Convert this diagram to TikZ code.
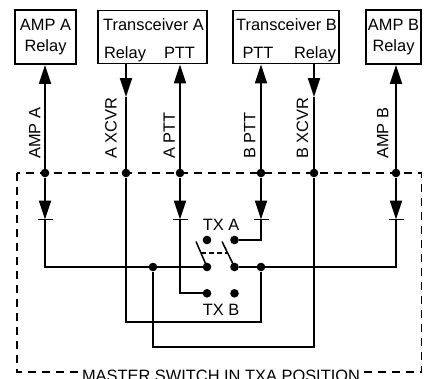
\documentclass[tikz,border=0pt]{standalone}
\usepackage{fontspec}
\setmainfont{Liberation Sans}
\usetikzlibrary{arrows.meta,calc}

\begin{document}
\begin{tikzpicture}[line cap=butt,line join=miter,>={Triangle[length=19pt,width=12pt]},x=1pt,y=-1pt,
            font=\fontsize{16.4}{21}\selectfont,
            wire/.style={line width=1.8pt},
            unit/.style={draw,line width=1.8pt,align=center,inner sep=0pt},
            dot/.style={circle,fill,inner sep=0pt,minimum size=8.6pt},
            sig/.style={rotate=90,anchor=south west,inner sep=0pt},
            frame/.style={line width=1.5pt,dash pattern=on 8pt off 6pt}]
            \useasboundingbox (0,0) rectangle (426,378);
            \draw [frame] (17,173) rectangle (421.7,372);
            \node [fill=white,inner sep=3pt,anchor=base] (mode) at (221,381.7) {MASTER SWITCH IN TXA POSITION};
            % relay and transceiver boxes
            \node [unit,minimum width=61pt,minimum height=54pt] (ampA) at (45.5,37) {AMP A\\Relay};
            \node [unit,minimum width=109pt,minimum height=53pt] (xcvrA) at (152.5,37) {};
            \node [unit,minimum width=106pt,minimum height=53pt] (xcvrB) at (286.3,37) {};
            \node [unit,minimum width=55pt,minimum height=54pt] (ampB) at (393.5,37) {AMP B\\Relay};
            \node [anchor=base] (xcvrAname) at (153.5,30.8) {Transceiver A};
            \node [anchor=base] (xcvrArelay) at (125,58.5) {Relay};
            \node [anchor=base] (xcvrAptt) at (179.5,58.5) {PTT};
            \node [anchor=base] (xcvrBname) at (286.5,30.8) {Transceiver B};
            \node [anchor=base] (xcvrBptt) at (258,58.5) {PTT};
            \node [anchor=base] (xcvrBrelay) at (315,58.5) {Relay};
            % junctions on the switch boundary
            \node [dot] (jAmpA) at (45,173) {};
            \node [dot] (jXcvrA) at (126,173) {};
            \node [dot] (jPttA) at (180,173) {};
            \node [dot] (jPttB) at (261,173) {};
            \node [dot] (jXcvrB) at (314,173) {};
            \node [dot] (jAmpB) at (396,173) {};
            \node [sig] (lAmpA) at (40.5,159) {AMP A};
            \node [sig] (lXcvrA) at (117,159) {A XCVR};
            \node [sig] (lPttA) at (175,159) {A PTT};
            \node [sig] (lPttB) at (255.5,159) {B PTT};
            \node [sig] (lXcvrB) at (308.5,159) {B XCVR};
            \node [sig] (lAmpB) at (388.5,159) {AMP B};
            \draw [wire,->] (jAmpA) -- (jAmpA |- ampA.south);
            \draw [wire,->] (jPttA) -- (jPttA |- xcvrA.south);
            \draw [wire,->] (jPttB) -- (jPttB |- xcvrB.south);
            \draw [wire,->] (jAmpB) -- (jAmpB |- ampB.south);
            \coordinate (tipXcvrA) at (126,97);
            \coordinate (tipXcvrB) at (314,97);
            \draw [wire,->] (jXcvrA |- xcvrA.south) -- (tipXcvrA);
            \draw [wire] (tipXcvrA) -- (jXcvrA);
            \draw [wire,->] (jXcvrB |- xcvrB.south) -- (tipXcvrB);
            \draw [wire] (tipXcvrB) -- (jXcvrB);
            % diodes
            \foreach \n/\x in {AmpA/45,PttA/180,PttB/261,AmpB/396} {
                \coordinate (d\n) at (\x,219.5);
                \draw [wire,->] (j\n) -- (d\n);
                \draw [wire] ([xshift=-7.5pt]d\n) -- ([xshift=7.5pt]d\n);
            }
            % master switch
            \node [dot] (txaL) at (207,240) {};
            \node [dot] (txaR) at (234.5,240) {};
            \node [dot] (poleL) at (207,267) {};
            \node [dot] (poleR) at (234.5,267) {};
            \node [dot] (txbL) at (207,293.3) {};
            \node [dot] (txbR) at (234.5,293.3) {};
            \node [anchor=base] (txaName) at (221,230) {TX A};
            \node [anchor=base] (txbName) at (221,315.7) {TX B};
            \coordinate (bladeL) at (196,241.5);
            \coordinate (bladeR) at (222,241.5);
            \draw [line width=1.5pt] (poleL.center) -- (bladeL);
            \draw [line width=1.5pt] (poleR.center) -- (bladeR);
            \draw [line width=1.5pt,dash pattern=on 5pt off 3pt] ($(poleL.center)!0.55!(bladeL)$) -- ($(poleR.center)!0.55!(bladeR)$);
            % wiring
            \node [dot] (nA) at (153,267) {};
            \node [dot] (nB) at (261,267) {};
            \coordinate (loopA) at (261,321.7);
            \coordinate (loopB) at (153,347.3);
            \draw [wire] (dAmpA) |- (poleL);
            \draw [wire] (jXcvrA) |- (loopA) -- (nB);
            \draw [wire] (dPttA) |- (txbL);
            \draw [wire] (dPttB) |- (txaR);
            \draw [wire] (jXcvrB) |- (loopB) -- (nA);
            \draw [wire] (dAmpB) |- (poleR);
\end{tikzpicture}
\end{document}
